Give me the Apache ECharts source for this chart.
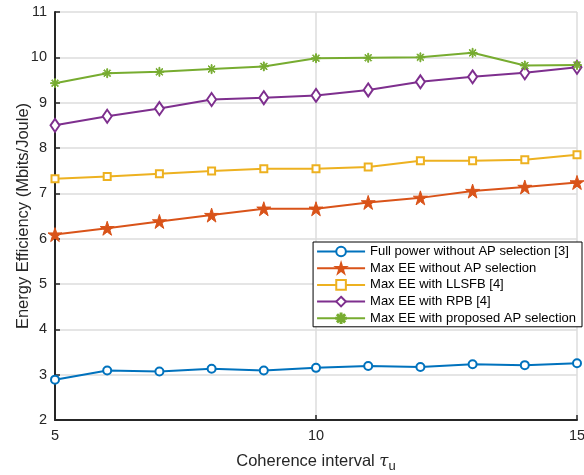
<!DOCTYPE html>
<html>
<head>
<meta charset="utf-8">
<style>
  html, body { margin: 0; padding: 0; background: #fff; }
  #chart { width: 584px; height: 475px; }
</style>
</head>
<body>
<div id="chart"></div>
<script src="https://cdn.jsdelivr.net/npm/echarts@6/dist/echarts.min.js"></script>
<script>
// coherence interval tau_u
var tau = [5, 6, 7, 8, 9, 10, 11, 12, 13, 14, 15];

var fullPower = [2.89, 3.09, 3.07, 3.13, 3.09, 3.15, 3.19, 3.17, 3.23, 3.21, 3.25];
var maxEE     = [6.09, 6.23, 6.38, 6.52, 6.66, 6.66, 6.80, 6.90, 7.05, 7.14, 7.24];
var llsfb     = [7.32, 7.37, 7.43, 7.49, 7.54, 7.54, 7.58, 7.72, 7.72, 7.74, 7.85];
var rpb       = [8.50, 8.70, 8.87, 9.07, 9.11, 9.16, 9.28, 9.46, 9.57, 9.66, 9.78];
var proposed  = [9.43, 9.65, 9.68, 9.74, 9.80, 9.98, 9.99, 10.00, 10.10, 9.82, 9.83];

var names = [
  'Full power without AP selection [3]',
  'Max EE without AP selection',
  'Max EE with LLSFB [4]',
  'Max EE with RPB [4]',
  'Max EE with proposed AP selection'
];

function pairs(ys) {
  return tau.map(function (x, i) { return [x, ys[i]]; });
}

// asterisk-like marker
var asterisk = 'path://M4.5,0h1v3.8l2.7-2.7l0.7,0.7l-2.7,2.7h3.8v1h-3.8l2.7,2.7l-0.7,0.7l-2.7-2.7v3.8h-1v-3.8l-2.7,2.7l-0.7-0.7l2.7-2.7h-3.8v-1h3.8l-2.7-2.7l0.7-0.7l2.7,2.7z';
var star = 'path://M50,0L61.8,36.2L100,36.2L69.1,58.6L80.9,95.1L50,72.6L19.1,95.1L30.9,58.6L0,36.2L38.2,36.2Z';

var chart = echarts.init(document.getElementById('chart'));

function line(name, data, color, symbol, size, hollow) {
  return {
    name: name,
    type: 'line',
    data: pairs(data),
    symbol: symbol,
    symbolSize: size,
    showAllSymbol: true,
    lineStyle: { color: color, width: 2 },
    itemStyle: hollow
      ? { color: '#fff', borderColor: color, borderWidth: 2 }
      : { color: color, borderColor: color, borderWidth: 1 },
    emphasis: { disabled: true },
    animation: false
  };
}

var option = {
  backgroundColor: '#fff',
  textStyle: { fontFamily: 'Liberation Sans, Arial, sans-serif' },
  grid: { left: 55, right: 7, top: 12, bottom: 55, containLabel: false, outerBoundsMode: 'none' },
  legend: {
    orient: 'vertical',
    right: 2,
    top: 242,
    backgroundColor: '#fff',
    borderColor: '#000',
    borderWidth: 1,
    padding: [3, 6, 2, 3],
    itemWidth: 48,
    itemHeight: 12,
    itemGap: 3.7,
    textStyle: { fontSize: 13, color: '#000' },
    data: names
  },
  xAxis: {
    type: 'value',
    min: 5, max: 15, interval: 5,
    name: 'Coherence interval {t|τ}{s|u}',
    nameLocation: 'middle',
    nameGap: 30,
    nameMoveOverlap: false,
    nameTextStyle: {
      fontSize: 16.5, color: '#262626',
      rich: {
        t: { fontSize: 16.5, fontStyle: 'italic', color: '#262626', fontFamily: 'DejaVu Serif' },
        s: { fontSize: 13, color: '#262626', verticalAlign: 'bottom', padding: [10, 0, 0, 0] }
      }
    },
    axisLine: { lineStyle: { color: '#262626', width: 2 } },
    axisTick: { inside: true, length: 5, lineStyle: { color: '#262626', width: 1.5 } },
    axisLabel: { fontSize: 14.5, color: '#262626', margin: 8 },
    splitLine: { show: true, lineStyle: { color: '#dcdcdc', width: 1.5 } }
  },
  yAxis: {
    type: 'value',
    min: 2, max: 11, interval: 1,
    name: 'Energy Efficiency (Mbits/Joule)',
    nameLocation: 'middle',
    nameGap: 23,
    nameMoveOverlap: false,
    nameTextStyle: { fontSize: 16.5, color: '#262626' },
    axisLine: { show: true, lineStyle: { color: '#262626', width: 2 } },
    axisTick: { show: true, inside: true, length: 5, lineStyle: { color: '#262626', width: 1.5 } },
    axisLabel: { fontSize: 14.5, color: '#262626', margin: 8 },
    splitLine: { show: true, lineStyle: { color: '#dcdcdc', width: 1.5 } }
  },
  series: [
    line(names[0], fullPower, '#0072BD', 'circle', 8, true),
    line(names[1], maxEE, '#D95319', star, 14, false),
    line(names[2], llsfb, '#EDB120', 'rect', 7, true),
    line(names[3], rpb, '#7E2F8E', 'diamond', [9, 13], true),
    line(names[4], proposed, '#77AC30', asterisk, 9, false)
  ]
};

chart.setOption(option);
</script>
</body>
</html>
